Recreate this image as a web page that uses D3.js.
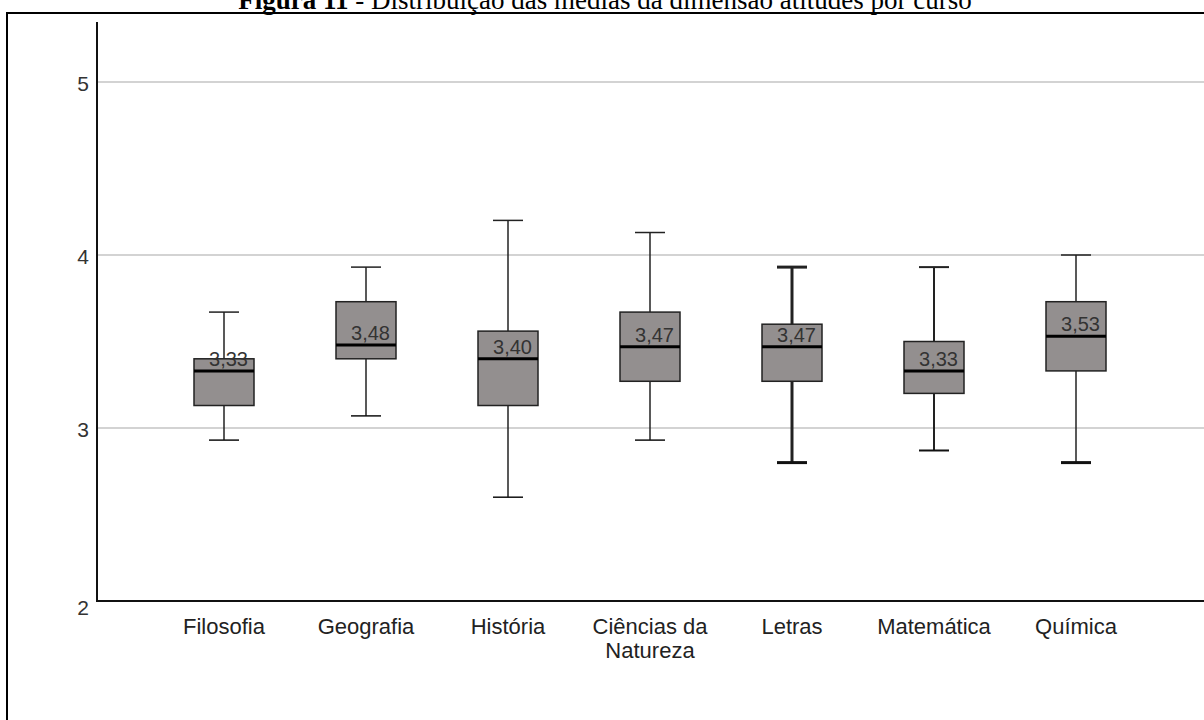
<!DOCTYPE html>
<html>
<head>
<meta charset="utf-8">
<script src="https://cdn.jsdelivr.net/npm/d3@7"></script>
<style>
  html, body { margin: 0; padding: 0; background: #fff; }
  svg { display: block; }
</style>
</head>
<body>
<svg id="chart" width="1204" height="720"></svg>
<script>
// Courses and their five-number summaries (attitudes dimension means)
const categories = ["Filosofia", "Geografia", "História", "Ciências da Natureza", "Letras", "Matemática", "Química"];
const whiskerLow  = [2.93, 3.07, 2.60, 2.93, 2.80, 2.87, 2.80];
const q1          = [3.13, 3.40, 3.13, 3.27, 3.27, 3.20, 3.33];
const medians     = [3.33, 3.48, 3.40, 3.47, 3.47, 3.33, 3.53];
const q3          = [3.40, 3.73, 3.56, 3.67, 3.60, 3.50, 3.73];
const whiskerHigh = [3.67, 3.93, 4.20, 4.13, 3.93, 3.93, 4.00];
const yTicks = [2, 3, 4, 5];
const medianLabels = ["3,33", "3,48", "3,40", "3,47", "3,47", "3,33", "3,53"];

const titleBold = "Figura 11";
const titleRest = " - Distribuição das médias da dimensão atitudes por curso";

// line weights for whiskers (upper, lower) per course
const whiskerStroke = {
  "Filosofia": [1.5, 1.5], "Geografia": [1.5, 1.5], "História": [1.5, 1.5],
  "Ciências da Natureza": [1.5, 1.5], "Letras": [3, 3], "Matemática": [2, 2],
  "Química": [1.5, 1.5]
};

const data = categories.map((c, i) => ({
  name: c, lo: whiskerLow[i], q1: q1[i], med: medians[i], q3: q3[i], hi: whiskerHigh[i], label: medianLabels[i]
}));

const svg = d3.select("#chart");
const W = 1204, H = 720;
const axisX = 97, axisTop = 22, axisBottom = 601;

const y = d3.scaleLinear().domain([2, 5]).range([axisBottom, 82]);
const x = d3.scaleBand().domain(categories).range([153, 1147]).padding(0);
const cx = d => x(d) + x.bandwidth() / 2;
const boxW = 60, capW = 30;

// title (sits partly above the page edge)
const title = svg.append("text")
  .attr("x", 605).attr("y", 9)
  .attr("text-anchor", "middle")
  .attr("font-family", "'Liberation Serif', 'Times New Roman', serif")
  .attr("font-size", 27).attr("fill", "#000");
title.append("tspan").attr("font-weight", "bold").text(titleBold);
title.append("tspan").text(titleRest);

// outer frame
svg.append("path")
  .attr("d", `M7,${H + 5} L7,13 L${W + 5},13`)
  .attr("fill", "none").attr("stroke", "#000").attr("stroke-width", 2);

// horizontal gridlines
svg.append("g")
  .selectAll("line")
  .data(yTicks.filter(t => t > 2))
  .join("line")
  .attr("x1", axisX).attr("x2", W)
  .attr("y1", d => y(d)).attr("y2", d => y(d))
  .attr("stroke", "#c4c4c4").attr("stroke-width", 1.5);

// y axis
const yAxis = d3.axisLeft(y).tickValues(yTicks).tickSize(0).tickPadding(8).tickFormat(d3.format("d"));
const gy = svg.append("g").attr("transform", `translate(${axisX},0)`).call(yAxis);
gy.select(".domain").remove();
gy.selectAll("text")
  .attr("font-family", "'Liberation Sans', Arial, sans-serif")
  .attr("font-size", 21).attr("fill", "#333").attr("dy", "0.4em");
gy.selectAll(".tick").filter(d => d === 2).select("text").attr("dy", "0.65em");

svg.append("line")
  .attr("x1", axisX).attr("x2", axisX).attr("y1", axisTop).attr("y2", axisBottom)
  .attr("stroke", "#111").attr("stroke-width", 2);

// x axis
const xAxis = d3.axisBottom(x).tickSize(0).tickPadding(0);
const gx = svg.append("g").attr("transform", `translate(0,${axisBottom})`).call(xAxis);
gx.select(".domain").remove();
gx.selectAll("text").remove();
gx.selectAll(".tick").each(function (d) {
  const words = d === "Ciências da Natureza" ? ["Ciências da", "Natureza"] : [d];
  const t = d3.select(this).append("text")
    .attr("text-anchor", "middle")
    .attr("font-family", "'Liberation Sans', Arial, sans-serif")
    .attr("font-size", 22).attr("fill", "#222");
  words.forEach((w, i) => t.append("tspan").attr("x", 0).attr("y", 33 + i * 24).text(w));
});
svg.append("line")
  .attr("x1", axisX - 1).attr("x2", W).attr("y1", axisBottom).attr("y2", axisBottom)
  .attr("stroke", "#111").attr("stroke-width", 2);

// boxplots
const g = svg.append("g")
  .selectAll("g.box")
  .data(data)
  .join("g").attr("class", "box");

// whisker stems
g.append("line")
  .attr("x1", d => cx(d.name)).attr("x2", d => cx(d.name))
  .attr("y1", d => y(d.q3)).attr("y2", d => y(d.hi))
  .attr("stroke", "#222").attr("stroke-width", d => whiskerStroke[d.name][0]);
g.append("line")
  .attr("x1", d => cx(d.name)).attr("x2", d => cx(d.name))
  .attr("y1", d => y(d.q1)).attr("y2", d => y(d.lo))
  .attr("stroke", "#222").attr("stroke-width", d => whiskerStroke[d.name][1]);

// caps
g.append("line")
  .attr("x1", d => cx(d.name) - capW / 2).attr("x2", d => cx(d.name) + capW / 2)
  .attr("y1", d => y(d.hi)).attr("y2", d => y(d.hi))
  .attr("stroke", "#222").attr("stroke-width", d => whiskerStroke[d.name][0]);
g.append("line")
  .attr("x1", d => cx(d.name) - capW / 2).attr("x2", d => cx(d.name) + capW / 2)
  .attr("y1", d => y(d.lo)).attr("y2", d => y(d.lo))
  .attr("stroke", "#111").attr("stroke-width", d => d.name === "Química" ? 3 : whiskerStroke[d.name][1]);

// interquartile boxes
g.append("rect")
  .attr("x", d => cx(d.name) - boxW / 2)
  .attr("width", boxW)
  .attr("y", d => y(d.q3))
  .attr("height", d => y(d.q1) - y(d.q3))
  .attr("fill", "#938f8f")
  .attr("stroke", "#222").attr("stroke-width", 1.5);

// medians
g.append("line")
  .attr("x1", d => cx(d.name) - boxW / 2).attr("x2", d => cx(d.name) + boxW / 2)
  .attr("y1", d => y(d.med)).attr("y2", d => y(d.med))
  .attr("stroke", "#000").attr("stroke-width", 3);

// median value labels
g.append("text")
  .attr("x", d => cx(d.name) + boxW / 2 - 6)
  .attr("y", d => y(d.med) - 5)
  .attr("text-anchor", "end")
  .attr("font-family", "'Liberation Sans', Arial, sans-serif")
  .attr("font-size", 20).attr("fill", "#333")
  .text(d => d.label);
</script>
</body>
</html>
